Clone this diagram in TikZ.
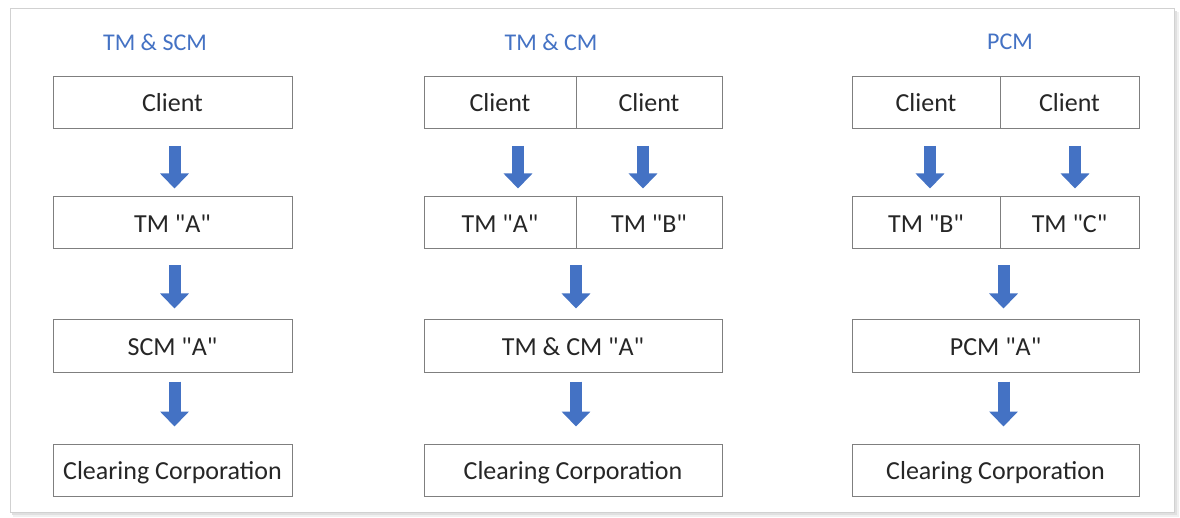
\documentclass[tikz,border=0pt]{standalone}
\usepackage{fontspec}
\setmainfont{Carlito}[Ligatures=TeXOff]
\usetikzlibrary{arrows.meta}
\definecolor{accent}{HTML}{4472C4}
\definecolor{boxline}{HTML}{7F7F7F}
\tikzset{
  box/.style={draw=boxline, line width=1pt, fill=white, minimum height=52pt, inner sep=0pt, font=\fontsize{26}{29}\selectfont, text=black!85, text height=22pt, text depth=3pt},
  title/.style={text=accent, font=\fontsize{24}{27}\selectfont, inner sep=0pt},
  down/.style={draw=accent, line width=12pt, -{Triangle[width=28pt,length=15pt]}},
  r1/.style={shorten <=17pt, shorten >=8pt},
  r2/.style={shorten <=16pt, shorten >=11pt},
  r3/.style={shorten <=9pt, shorten >=17pt}
}
\begin{document}
\begin{tikzpicture}[x=1pt,y=-1pt]
\useasboundingbox (0,0) rectangle (1180,518);
% frame with shadow
\fill[black!6] (13,12) rectangle (1179,517);
\fill[black!12] (12,11) rectangle (1177,515);
\fill[white] (10,9) rectangle (1174,512);
\draw[black!18, line width=1pt] (10,9) rectangle (1174,512);

% Column 1
\node[title] (t1) at (155,42) {TM \& SCM};
\node[box, minimum width=239pt] (c1) at (172.5,102.5) {Client};
\node[box, minimum width=239pt] (tm1) at (172.5,223) {TM "A"};
\node[box, minimum width=239pt] (scm1) at (172.5,346) {SCM "A"};
\node[box, minimum width=239pt] (cc1) at (172.5,470) {Clearing Corporation};
\draw[down,r1] ([xshift=2pt]c1.south) -- ([xshift=2pt]tm1.north);
\draw[down,r2] ([xshift=2pt]tm1.south) -- ([xshift=2pt]scm1.north);
\draw[down,r3] ([xshift=2pt]scm1.south) -- ([xshift=2pt]cc1.north);

% Column 2
\node[title] (t2) at (551,42) {TM \& CM};
\node[box, minimum width=152pt] (c2a) at (500,102.5) {Client};
\node[box, minimum width=146pt] (c2b) at (649,102.5) {Client};
\node[box, minimum width=152pt] (tm2a) at (500,223) {TM "A"};
\node[box, minimum width=146pt] (tm2b) at (649,223) {TM "B"};
\node[box, minimum width=298pt] (cm2) at (573,346) {TM \& CM "A"};
\node[box, minimum width=298pt] (cc2) at (573,470) {Clearing Corporation};
\draw[down,r1] ([xshift=18pt]c2a.south) -- ([xshift=18pt]tm2a.north);
\draw[down,r1] ([xshift=-6pt]c2b.south) -- ([xshift=-6pt]tm2b.north);
\draw[down,r2] ([xshift=3pt]cm2.north |- tm2a.south) -- ([xshift=3pt]cm2.north);
\draw[down,r3] ([xshift=3pt]cm2.south) -- ([xshift=3pt]cc2.north);

% Column 3
\node[title] (t3) at (1010,42) {PCM};
\node[box, minimum width=148pt] (c3a) at (926,102.5) {Client};
\node[box, minimum width=139pt] (c3b) at (1069.5,102.5) {Client};
\node[box, minimum width=148pt] (tm3a) at (926,223) {TM "B"};
\node[box, minimum width=139pt] (tm3b) at (1069.5,223) {TM "C"};
\node[box, minimum width=287pt] (pcm3) at (995.5,346) {PCM "A"};
\node[box, minimum width=287pt] (cc3) at (995.5,470) {Clearing Corporation};
\draw[down,r1] ([xshift=4pt]c3a.south) -- ([xshift=4pt]tm3a.north);
\draw[down,r1] ([xshift=5.5pt]c3b.south) -- ([xshift=5.5pt]tm3b.north);
\draw[down,r2] ([xshift=8pt]pcm3.north |- tm3a.south) -- ([xshift=8pt]pcm3.north);
\draw[down,r3] ([xshift=8pt]pcm3.south) -- ([xshift=8pt]cc3.north);
\end{tikzpicture}
\end{document}
